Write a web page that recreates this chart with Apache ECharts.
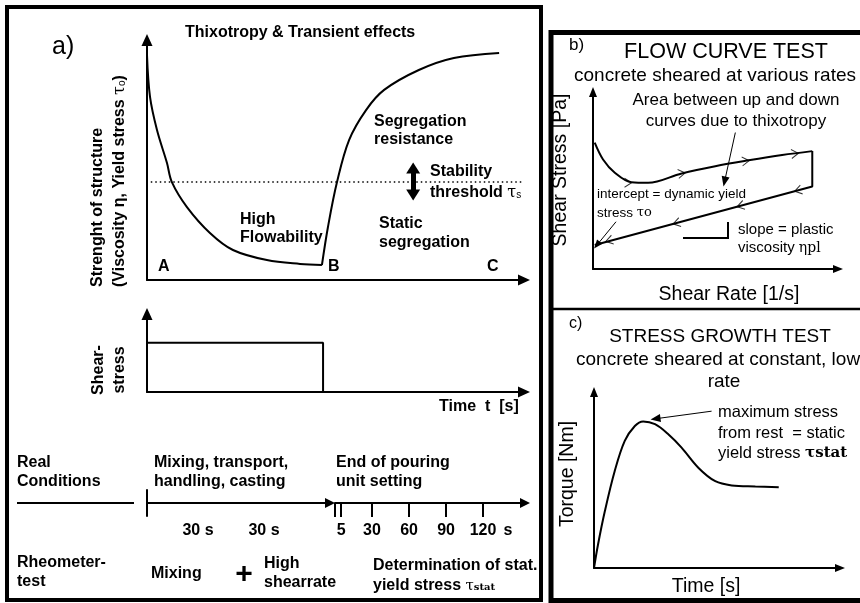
<!DOCTYPE html>
<html><head><meta charset="utf-8">
<script src="https://cdn.jsdelivr.net/npm/echarts@6/dist/echarts.min.js"></script>
<style>html,body{margin:0;padding:0;background:#fff}#c{width:860px;height:603px}</style>
</head><body><div id="c"></div>
<script>
// ---------- DATA ----------
// Panel a: strength of structure vs time (schematic units 0..100)
const strengthDropX = [0, 0.8, 2.65, 5.3, 6.6, 10.6, 16.7, 22.8, 31.8, 40.6, 46.4];
const strengthDropY = [93.75, 76.3, 62.5, 48.75, 40.8, 30.4, 19.6, 12.5, 8.3, 6.7, 6.25];
const strengthRiseX = [46.4, 48.0, 50.4, 53.6, 58.1, 62.9, 72.1, 81.4, 93.4];
const strengthRiseY = [6.25, 22.1, 40.8, 58.3, 70.8, 79.2, 87.5, 92.5, 94.6];
const stabilityThreshold = 40.8;
const thresholdRangeX = [1, 100];
const thresholdArrowY = [46.7, 35.4];
const thresholdArrowX = 70.6;
// shear stress step
const shearTimeX = [0, 46.7, 46.7];
const shearStressY = [63, 63, 0];
// timeline (s)
const timeTicks = [0, 5, 30, 60, 90, 120];
const timeTickLabels = [5, 30, 60, 90, 120];
// Panel b: flow curve
const flowUpX = [0.7, 4.1, 8.9, 15.7, 22.5, 36.2, 49.9, 63.5, 77.2, 89.5];
const flowUpY = [71.4, 61.9, 54.4, 49.0, 48.7, 54.0, 58.1, 61.4, 64.4, 66.6];
const flowDownX = [89.5, 89.5, 0.7];
const flowDownY = [66.6, 46.6, 13.6];
const upChevronX = [14.3, 36.2, 62.3, 82.4];
const upChevronY = [48.7, 54.0, 61.0, 65.2];
const upChevronAngle = [0, 8, 6, 6];
const downChevronX = [83.7, 60.2, 34.1, 6.6];
const downChevronY = [44.4, 35.7, 26.0, 16.1];
const downChevronAngle = [195, 195, 195, 195];
const areaArrow = [[58.1, 77.1], [53.7, 49.4]];
const interceptArrow = [[9.4, 26.7], [1.6, 13.5]];
// Panel c: stress growth
const growthX = [0, 1.6, 4.4, 8.4, 12.5, 16.6, 20, 24.8, 30.2, 35.6, 42.4, 49.3, 56, 65.6, 75.1];
const growthY = [0, 13.1, 32.2, 55, 72.2, 80.7, 83.3, 81.7, 76, 68.4, 57, 49.3, 46.9, 46.3, 45.9];
const peakArrow = [[47.8, 89.1], [25.0, 84.8]];

// ---------- HELPERS ----------
const FF = '"Liberation Sans", Arial, sans-serif';
const zip = (a, b) => a.map((v, i) => [v, b[i]]);
function T(x, y, text, o) {
  o = o || {};
  const align = o.align || 'left';
  return {
    type: 'text', x: x, y: y, rotation: o.rot || 0, silent: true, z: 10,
    style: {
      text: text, x: 0, y: 0, fill: '#000',
      fontSize: o.size || 16, fontWeight: o.weight || 'bold', fontFamily: o.family || FF,
      textAlign: align, align: align, textVerticalAlign: 'middle', verticalAlign: 'middle',
      rich: o.rich
    }
  };
}
function axis(gi, min, max, line, arrow, extra) {
  return Object.assign({
    gridIndex: gi, type: 'value', min: min, max: max,
    splitLine: { show: false }, axisTick: { show: false }, axisLabel: { show: false },
    axisLine: {
      show: line, onZero: true,
      symbol: ['none', arrow ? 'triangle' : 'none'], symbolSize: arrow || [10, 10],
      lineStyle: { color: '#000', width: 2 }
    }
  }, extra || {});
}
const blk = { color: '#000', width: 2 };
function arrowLine(pair, w, size) {
  return {
    silent: true, animation: false, symbol: ['none', 'triangle'], symbolSize: size || [7, 9],
    label: { show: false }, lineStyle: { color: '#000', width: w || 1, type: 'solid' },
    data: [[{ coord: pair[0] }, { coord: pair[1] }]]
  };
}
const SERIF = 'DejaVu Serif, serif';
const subRich = {
  g: { fontFamily: SERIF, fontSize: 16, fontWeight: 'normal' },
  sub: { fontFamily: FF, fontSize: 10, fontWeight: 'normal', padding: [5, 0, 0, 0] }
};
const R = (size) => ({ size: size, weight: 'normal' });
const chevron = 'path://M0,0L10,5L0,10';

const chart = echarts.init(document.getElementById('c'));
chart.setOption({
  animation: false,
  backgroundColor: '#fff',
  grid: [
    { left: 147, right: 336, top: 40, bottom: 323, outerBoundsMode: 'none' },
    { left: 147, right: 336, top: 314, bottom: 211, outerBoundsMode: 'none' },
    { left: 147, right: 530, top: 490, bottom: 87, outerBoundsMode: 'none' },
    { left: 335, right: 335, top: 480, bottom: 100, outerBoundsMode: 'none' },
    { left: 593, right: 22, top: 92, bottom: 334, outerBoundsMode: 'none' },
    { left: 594, right: 20, top: 392, bottom: 35, outerBoundsMode: 'none' }
  ],
  xAxis: [
    axis(0, 0, 100, true, [11, 12]),
    axis(1, 0, 100, true, [11, 12]),
    axis(2, 0, 1, true, [10, 10]),
    axis(3, 0, 154, true, [10, 10], {
      axisTick: { show: true, customValues: timeTicks, length: 14, inside: false, lineStyle: blk },
      axisLabel: { show: true, customValues: timeTickLabels, margin: 20, fontSize: 16, fontWeight: 'bold', color: '#000', fontFamily: FF }
    }),
    axis(4, 0, 100, true, [8, 10]),
    axis(5, 0, 100, true, [8, 10])
  ],
  yAxis: [
    axis(0, 0, 100, true, [11, 12]),
    axis(1, 0, 100, true, [11, 12]),
    axis(2, -1, 1, true, null),
    axis(3, 0, 1, false, null),
    axis(4, 0, 100, true, [8, 10]),
    axis(5, 0, 100, true, [8, 10])
  ],
  series: [
    { type: 'line', xAxisIndex: 0, yAxisIndex: 0, data: zip(strengthDropX, strengthDropY), smooth: 0.35, symbol: 'none', lineStyle: blk },
    { type: 'line', xAxisIndex: 0, yAxisIndex: 0, data: zip(strengthRiseX, strengthRiseY), smooth: 0.35, symbol: 'none', lineStyle: blk },
    { type: 'line', xAxisIndex: 0, yAxisIndex: 0, data: thresholdRangeX.map(x => [x, stabilityThreshold]), symbol: 'none',
      lineStyle: { color: '#000', width: 1.5, type: [1.5, 3] },
      markLine: {
        silent: true, animation: false, symbol: ['triangle', 'triangle'], symbolSize: [14, 11],
        label: { show: false }, lineStyle: { color: '#000', width: 5, type: 'solid' },
        data: [[{ coord: [thresholdArrowX, thresholdArrowY[0]] }, { coord: [thresholdArrowX, thresholdArrowY[1]] }]]
      } },
    { type: 'line', xAxisIndex: 1, yAxisIndex: 1, data: zip(shearTimeX, shearStressY), symbol: 'none', lineStyle: blk },
    { type: 'line', xAxisIndex: 2, yAxisIndex: 2, data: [], symbol: 'none' },
    { type: 'line', xAxisIndex: 3, yAxisIndex: 3, data: [], symbol: 'none' },
    { type: 'line', xAxisIndex: 4, yAxisIndex: 4, data: zip(flowUpX, flowUpY), smooth: 0.35, symbol: 'none', lineStyle: blk,
      markLine: arrowLine(areaArrow, 1, [8, 10]) },
    { type: 'line', xAxisIndex: 4, yAxisIndex: 4, data: zip(flowDownX, flowDownY), symbol: 'none', lineStyle: blk,
      markLine: arrowLine(interceptArrow, 1, [7, 9]) },
    { type: 'scatter', xAxisIndex: 4, yAxisIndex: 4, symbol: chevron, symbolSize: [7, 9],
      itemStyle: { color: 'transparent', borderColor: '#000', borderWidth: 1 },
      data: upChevronX.map((x, i) => ({ value: [x, upChevronY[i]], symbolRotate: upChevronAngle[i] })) },
    { type: 'scatter', xAxisIndex: 4, yAxisIndex: 4, symbol: chevron, symbolSize: [7, 9],
      itemStyle: { color: 'transparent', borderColor: '#000', borderWidth: 1 },
      data: downChevronX.map((x, i) => ({ value: [x, downChevronY[i]], symbolRotate: downChevronAngle[i] })) },
    { type: 'line', xAxisIndex: 5, yAxisIndex: 5, data: zip(growthX, growthY), smooth: 0.35, symbol: 'none', lineStyle: blk,
      markLine: arrowLine(peakArrow, 1, [8, 10]) }
  ],
  graphic: [
    // frames
    { type: 'rect', silent: true, shape: { x: 7, y: 7, width: 534, height: 593 }, style: { fill: 'none', stroke: '#000', lineWidth: 4 } },
    { type: 'rect', silent: true, shape: { x: 551, y: 32.5, width: 400, height: 568 }, style: { fill: 'none', stroke: '#000', lineWidth: 5 } },
    { type: 'line', silent: true, shape: { x1: 551, y1: 309, x2: 860, y2: 309 }, style: { stroke: '#000', lineWidth: 2.5 } },
    // panel a texts
    T(52, 47, 'a)', R(25)),
    T(185, 33, 'Thixotropy & Transient effects'),
    T(98, 287, 'Strenght of structure', { rot: Math.PI / 2 }),
    T(120, 287, '(Viscosity η, Yield stress {g|τ}{sub|o})', { rot: Math.PI / 2, rich: subRich }),
    T(158, 267, 'A'), T(328, 267, 'B'), T(487, 267, 'C'),
    T(240, 220, 'High'), T(240, 238, 'Flowability'),
    T(374, 122, 'Segregation'), T(374, 140, 'resistance'),
    T(430, 172, 'Stability'), T(430, 193, 'threshold {g|τ}{sub|s}', { rich: subRich }),
    T(379, 224, 'Static'), T(379, 243, 'segregation'),
    T(99, 370, 'Shear-', { rot: Math.PI / 2, align: 'center' }),
    T(120, 370, 'stress', { rot: Math.PI / 2, align: 'center' }),
    T(439, 407, 'Time  t  [s]'),
    T(17, 463, 'Real'), T(17, 482, 'Conditions'),
    { type: 'line', silent: true, shape: { x1: 17, y1: 503, x2: 134, y2: 503 }, style: { stroke: '#000', lineWidth: 2 } },
    T(154, 463, 'Mixing, transport,'), T(154, 482, 'handling, casting'),
    T(336, 463, 'End of pouring'), T(336, 482, 'unit setting'),
    T(198, 531, '30 s', { align: 'center' }), T(264, 531, '30 s', { align: 'center' }),
    T(508, 531, 's', { align: 'center' }),
    T(17, 563, 'Rheometer-'), T(17, 582, 'test'),
    T(151, 574, 'Mixing'),
    T(244, 575, '+', { size: 30, align: 'center' }),
    T(264, 564, 'High'), T(264, 583, 'shearrate'),
    T(373, 566, 'Determination of stat.'),
    T(373, 586, 'yield stress {g|τ}{sub|stat}', { rich: { g: { fontFamily: SERIF, fontSize: 15, fontWeight: 'normal' }, sub: { fontFamily: SERIF, fontSize: 10, fontWeight: 'bold', padding: [3, 0, 0, 0] } } }),
    // panel b texts
    T(569, 45, 'b)', R(17)),
    T(726, 52, 'FLOW CURVE TEST', { size: 21.5, weight: 'normal', align: 'center' }),
    T(715, 76, 'concrete sheared at various rates', { size: 19, weight: 'normal', align: 'center' }),
    T(736, 100, 'Area between up and down', { size: 17, weight: 'normal', align: 'center' }),
    T(736, 121, 'curves due to thixotropy', { size: 17, weight: 'normal', align: 'center' }),
    T(597, 194, 'intercept = dynamic yield', R(13.5)),
    T(597, 213, 'stress {g|τo}', { size: 13.5, weight: 'normal', rich: { g: { fontFamily: SERIF, fontSize: 13 } } }),
    T(738, 230, 'slope = plastic', R(15)),
    T(738, 248, 'viscosity {g|ηpl}', { size: 15, weight: 'normal', rich: { g: { fontFamily: SERIF, fontSize: 14 } } }),
    { type: 'polyline', silent: true, shape: { points: [[683, 238], [728, 238], [728, 222]] }, style: { fill: 'none', stroke: '#000', lineWidth: 2 } },
    T(561, 170, 'Shear Stress [Pa]', { size: 19.5, weight: 'normal', rot: Math.PI / 2, align: 'center' }),
    T(729, 295, 'Shear Rate [1/s]', { size: 19.5, weight: 'normal', align: 'center' }),
    // panel c texts
    T(569, 324, 'c)', R(16)),
    T(720, 337, 'STRESS GROWTH TEST', { size: 19, weight: 'normal', align: 'center' }),
    T(576, 360, 'concrete sheared at constant, low', R(19)),
    T(724, 382, 'rate', { size: 19, weight: 'normal', align: 'center' }),
    T(718, 412, 'maximum stress', R(16.5)),
    T(718, 433, 'from rest  = static', R(16.5)),
    T(718, 453, 'yield stress {g|τstat}', { size: 16.5, weight: 'normal', rich: { g: { fontFamily: SERIF, fontSize: 15, fontWeight: 'bold' } } }),
    T(568, 474, 'Torque [Nm]', { size: 19.5, weight: 'normal', rot: Math.PI / 2, align: 'center' }),
    T(706, 587, 'Time [s]', { size: 19.5, weight: 'normal', align: 'center' })
  ]
});
</script></body></html>
